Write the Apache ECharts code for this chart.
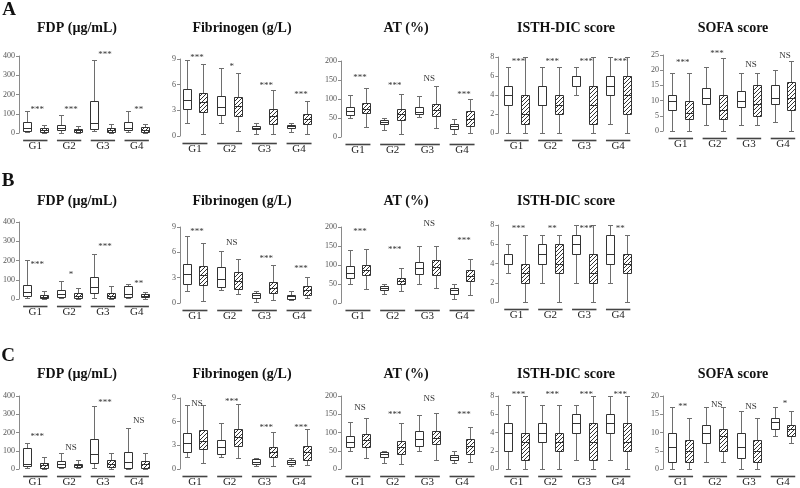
<!DOCTYPE html>
<html><head><meta charset="utf-8">
<script src="https://cdn.jsdelivr.net/npm/echarts@6/dist/echarts.min.js"></script>
<style>html,body{margin:0;padding:0;background:#fff}#c{width:800px;height:488px}</style>
</head><body><div id="c"></div>
<script>
// ---------- DATA ----------
const groups = ['G1', 'G2', 'G3', 'G4'];
// each box: [min, Q1, median, Q3, max]
// Row A
const fdpA_white = [[3,12,25,55,112],[2,14,24,43,96],[8,21,52,165,379],[3,14,26,57,113]];
const fdpA_hatch = [[2,6,14,25,40],[2,5,14,23,38],[2,5,15,26,45],[2,5,17,31,45]];
const fdpA_sig = ['***','***','***','**'];
const fdpA_sigY = [123,123,405,123];

const fibA_white = [[1.5,3.1,4.25,5.45,8.9],[1.5,2.45,3.35,4.65,8.0],[0.2,0.78,0.95,1.2,1.5],[0.47,0.95,1.13,1.25,1.5]];
const fibA_hatch = [[0.27,2.75,4.0,5.05,8.4],[0.55,2.35,3.5,4.6,7.4],[0.27,1.45,2.3,3.2,5.35],[0.27,1.37,2.0,2.55,4.05]];
const fibA_sig = ['***','*','***','***'];
const fibA_sigY = [9.2,8.1,5.9,4.85];

const atA_white = [[51,57,68,79,111],[18,33,39,45,50],[52,60,67,79,108],[8,22,28,33,48]];
const atA_hatch = [[27,62,75,90,128],[7,45,60,73,113],[25,55,70,88,135],[10,29,48,69,101]];
const atA_sig = ['***','***','NS','***'];
const atA_sigY = [157,134,153,111];

const isthA_white = [[0,3,4,5,7],[0,3,3,5,7],[4,5,6,6,7],[1,4,5,6,8]];
const isthA_hatch = [[0,1,2,4,8],[0,2,3,4,7],[0,1,3,5,8],[0,2,4,6,8]];
const isthA_sig = ['***','***','***','***'];
const isthA_sigY = [7.5,7.5,7.5,7.5];

const sofaA_white = [[0,7,10,12,19],[2,9,11,14,21],[2,8,10,13,19],[3,9,11,15,20]];
const sofaA_hatch = [[0,4,6,10,19],[0,4,7,12,24],[2,5,9,15,19],[0,7,11,16,23]];
const sofaA_sig = ['***','***','NS','NS'];
const sofaA_sigY = [22.6,25.5,21.7,24.8];

// Row B
const fdpB_white = [[5,15,35,75,205],[5,10,25,45,95],[5,30,60,112,232],[5,10,28,65,78]];
const fdpB_hatch = [[2,5,12,22,42],[2,5,15,30,58],[2,5,15,30,68],[2,8,15,25,35]];
const fdpB_sig = ['***','*','***','**'];
const fdpB_sigY = [177,128,273,82];

const fibB_white = [[1.4,2.2,3.4,4.6,7.9],[1.5,1.9,2.8,4.3,6.2],[0.12,0.63,0.9,1.2,1.4],[0.3,0.5,0.83,1.0,1.4]];
const fibB_hatch = [[0.24,2.1,3.3,4.4,7.1],[1.1,1.6,2.6,3.7,5.2],[0.3,1.2,1.8,2.5,4.45],[0.63,1.0,1.5,2.0,3.1]];
const fibB_sig = ['***','NS','***','***'];
const fibB_sigY = [8.4,7.1,5.2,4.1];

const atB_white = [[49,67,80,97,139],[23,35,39,45,49],[51,77,93,108,150],[11,25,33,40,49]];
const atB_hatch = [[38,75,88,101,141],[31,49,58,67,93],[39,75,95,112,150],[20,58,72,86,115]];
const atB_sig = ['***','***','NS','***'];
const atB_sigY = [189,140,210,165];

const isthB_white = [[3,4,4,5,6],[2,4,5,6,7],[2,5,6,7,8],[2,4,5,7,8]];
const isthB_hatch = [[0,2,3,4,7],[0,3,4,6,7],[0,2,3,5,8],[0,3,4,5,7]];
const isthB_sig = ['***','**','***','**'];
const isthB_sigY = [7.65,7.65,7.65,7.65];

// Row C
const fdpC_white = [[5,18,30,115,145],[5,12,25,45,88],[5,35,80,165,345],[2,8,40,95,222]];
const fdpC_hatch = [[2,8,20,32,65],[3,10,20,30,50],[2,10,30,50,88],[2,8,25,42,85]];
const fdpC_sig = ['***','NS','***','NS'];
const fdpC_sigY = [175,119,363,263];

const fibC_white = [[1.53,2.16,3.3,4.6,8.05],[1.53,1.85,2.83,3.7,5.78],[0.4,0.67,0.94,1.25,1.45],[0.35,0.59,0.94,1.14,1.45]];
const fibC_hatch = [[0.8,2.5,3.6,4.9,8.1],[1.4,2.9,4.0,5.1,8.25],[0.4,1.53,2.1,2.83,4.7],[0.55,1.14,2.1,2.95,5.1]];
const fibC_sig = ['NS','***','***','***'];
const fibC_sigY = [8.3,8.5,5.3,5.3];

const atC_white = [[50,61,75,90,130],[16,32,41,46,50],[50,63,82,104,149],[16,25,32,39,50]];
const atC_hatch = [[29,61,80,96,140],[13,42,60,77,125],[26,68,85,103,153],[18,41,62,82,116]];
const atC_sig = ['NS','***','NS','***'];
const atC_sigY = [168,149,193,149];

const isthC_white = [[0,2,4,5,7],[0,3,4,5,7],[1,4,5,6,7],[1,4,5,6,8]];
const isthC_hatch = [[0,1,3,4,8],[0,2,3,4,7],[0,1,3,5,8],[0,2,3,5,8]];
const isthC_sig = ['***','***','***','***'];
const isthC_sigY = [8.2,8.2,8.2,8.2];

const sofaC_white = [[0,2,6,10,17],[2,7,10,12,17],[0,3,6,10,16],[9,11,13,14,17]];
const sofaC_hatch = [[0,2,5,8,14],[2,5,9,11,17],[0,2,5,8,14],[7,9,11,12,16]];
const sofaC_sig = ['**','NS','NS','*'];
const sofaC_sigY = [17,17.5,17,18];

// ---------- LAYOUT ----------
const colLeft = [18.4, 177.6, 340.6, 499.5, 663.8];
const colWidth = [135.2, 138.8, 138.8, 135.6, 137.6];
const axisX = [19, 180, 341, 498.3, 663];
const titleX = [77, 242, 406, 566, 733];
const rowTitleY = [28, 201, 374];
const rowLetters = [['A', 9, 10], ['B', 8, 181], ['C', 8, 356]];
const SERIF = '"Liberation Serif", "Times New Roman", serif';

const panels = [
  {r:0,c:0,title:'FDP (µg/mL)',max:400,iv:100,top:56,bot:133,w:fdpA_white,h:fdpA_hatch,s:fdpA_sig,sy:fdpA_sigY},
  {r:0,c:1,title:'Fibrinogen (g/L)',max:9,iv:3,top:59,bot:136,w:fibA_white,h:fibA_hatch,s:fibA_sig,sy:fibA_sigY},
  {r:0,c:2,title:'AT (%)',max:200,iv:50,top:61,bot:137,w:atA_white,h:atA_hatch,s:atA_sig,sy:atA_sigY},
  {r:0,c:3,title:'ISTH-DIC score',max:8,iv:2,top:57,bot:133,w:isthA_white,h:isthA_hatch,s:isthA_sig,sy:isthA_sigY},
  {r:0,c:4,title:'SOFA score',max:25,iv:5,top:55,bot:131,w:sofaA_white,h:sofaA_hatch,s:sofaA_sig,sy:sofaA_sigY},
  {r:1,c:0,title:'FDP (µg/mL)',max:400,iv:100,top:222,bot:299,w:fdpB_white,h:fdpB_hatch,s:fdpB_sig,sy:fdpB_sigY},
  {r:1,c:1,title:'Fibrinogen (g/L)',max:9,iv:3,top:227,bot:303,w:fibB_white,h:fibB_hatch,s:fibB_sig,sy:fibB_sigY},
  {r:1,c:2,title:'AT (%)',max:200,iv:50,top:227,bot:303,w:atB_white,h:atB_hatch,s:atB_sig,sy:atB_sigY},
  {r:1,c:3,title:'ISTH-DIC score',max:8,iv:2,top:225,bot:302,w:isthB_white,h:isthB_hatch,s:isthB_sig,sy:isthB_sigY},
  {r:2,c:0,title:'FDP (µg/mL)',max:400,iv:100,top:396,bot:472,w:fdpC_white,h:fdpC_hatch,s:fdpC_sig,sy:fdpC_sigY},
  {r:2,c:1,title:'Fibrinogen (g/L)',max:9,iv:3,top:398,bot:474,w:fibC_white,h:fibC_hatch,s:fibC_sig,sy:fibC_sigY},
  {r:2,c:2,title:'AT (%)',max:200,iv:50,top:396,bot:472,w:atC_white,h:atC_hatch,s:atC_sig,sy:atC_sigY},
  {r:2,c:3,title:'ISTH-DIC score',max:8,iv:2,top:396,bot:472,w:isthC_white,h:isthC_hatch,s:isthC_sig,sy:isthC_sigY},
  {r:2,c:4,title:'SOFA score',max:20,iv:5,top:396,bot:472,w:sofaC_white,h:sofaC_hatch,s:sofaC_sig,sy:sofaC_sigY}
];

// ---------- STYLE ----------
const BOX_OFF = 8.4, BOX_W = 8, CAP_W = 5, SIG_DX = 2;
const BOX_STROKE = '#333', WHISK = '#6e6e6e';

const hatch = document.createElement('canvas');
hatch.width = 4; hatch.height = 4;
const hc = hatch.getContext('2d');
hc.strokeStyle = '#333'; hc.lineWidth = 1;
hc.beginPath();
hc.moveTo(0, 4); hc.lineTo(4, 0);
hc.moveTo(-1, 1); hc.lineTo(1, -1);
hc.moveTo(3, 5); hc.lineTo(5, 3);
hc.stroke();

function px(v) { return Math.round(v) + 0.5; }

function makeBox(side, hatched) {
  return function (params, api) {
    const c = api.value(0);
    const p = [1, 2, 3, 4, 5].map(k => api.coord([c, api.value(k)]));
    const x = px(p[0][0] + side * BOX_OFF);
    const hw = BOX_W / 2, cw = CAP_W / 2;
    const yMin = px(p[0][1]), yQ1 = px(p[1][1]), yMed = px(p[2][1]), yQ3 = px(p[3][1]), yMax = px(p[4][1]);
    const ls = {stroke: WHISK, lineWidth: 1};
    return {type: 'group', children: [
      {type: 'line', shape: {x1: x, y1: yMax, x2: x, y2: yQ3}, style: ls},
      {type: 'line', shape: {x1: x, y1: yQ1, x2: x, y2: yMin}, style: ls},
      {type: 'line', shape: {x1: x - cw, y1: yMax, x2: x + cw, y2: yMax}, style: ls},
      {type: 'line', shape: {x1: x - cw, y1: yMin, x2: x + cw, y2: yMin}, style: ls},
      {type: 'rect', shape: {x: x - hw, y: yQ3, width: 2 * hw, height: Math.max(yQ1 - yQ3, 1)},
        style: {fill: hatched ? {image: hatch, repeat: 'repeat'} : '#fff', stroke: BOX_STROKE, lineWidth: 1}},
      {type: 'line', shape: {x1: x - hw, y1: yMed, x2: x + hw, y2: yMed}, style: {stroke: BOX_STROKE, lineWidth: 1}}
    ]};
  };
}

const grid = [], xAxis = [], yAxis = [], series = [], graphic = [];
panels.forEach((P, i) => {
  grid.push({left: colLeft[P.c], top: P.top, width: colWidth[P.c], height: P.bot - P.top});
  xAxis.push({type: 'category', gridIndex: i, data: groups,
    axisLine: {show: false}, axisTick: {show: false}, splitLine: {show: false},
    axisLabel: {show: true, margin: 8, color: '#222', fontFamily: SERIF, fontSize: 11}});
  yAxis.push({type: 'value', gridIndex: i, min: 0, max: P.max, interval: P.iv,
    offset: colLeft[P.c] - axisX[P.c],
    axisLine: {show: true, lineStyle: {color: '#8a8a8a', width: 1}},
    axisTick: {show: true, length: 3, lineStyle: {color: '#8a8a8a'}},
    splitLine: {show: false},
    axisLabel: {color: '#555', fontFamily: SERIF, fontSize: 8, margin: 4}});
  series.push({type: 'custom', xAxisIndex: i, yAxisIndex: i, renderItem: makeBox(-1, false),
    encode: {x: 0, y: [1, 2, 3, 4, 5]}, data: P.w.map((b, k) => [k].concat(b)), silent: true});
  series.push({type: 'custom', xAxisIndex: i, yAxisIndex: i, renderItem: makeBox(1, true),
    encode: {x: 0, y: [1, 2, 3, 4, 5]}, data: P.h.map((b, k) => [k].concat(b)), silent: true});
  // group underline
  series.push({type: 'custom', xAxisIndex: i, yAxisIndex: i, silent: true,
    encode: {x: 0, y: 1}, data: groups.map((g, k) => [k, 0]),
    renderItem: function (params, api) {
      const pt = api.coord([api.value(0), 0]);
      const bw = api.size([1, 0])[0];
      const y = Math.round(pt[1]) + 7.5;
      return {type: 'line', shape: {x1: pt[0] - bw * 0.36, y1: y, x2: pt[0] + bw * 0.36, y2: y},
        style: {stroke: '#444', lineWidth: 1.6}};
    }});
  // significance labels
  const sigs = P.s;
  series.push({type: 'custom', xAxisIndex: i, yAxisIndex: i, silent: true,
    encode: {x: 0, y: 1}, data: P.sy.map((v, k) => [k, v]),
    renderItem: function (params, api) {
      const pt = api.coord([api.value(0), api.value(1)]);
      return {type: 'text', x: pt[0] + SIG_DX, y: pt[1],
        style: {text: sigs[params.dataIndex], align: 'center', verticalAlign: 'middle',
          fill: '#333', font: '9px ' + SERIF}};
    }});
  graphic.push({type: 'text', x: titleX[P.c], y: rowTitleY[P.r],
    style: {text: P.title, align: 'center', verticalAlign: 'middle', fill: '#111',
      font: 'bold 14px ' + SERIF}});
});
rowLetters.forEach(L => {
  graphic.push({type: 'text', x: L[1], y: L[2],
    style: {text: L[0], align: 'center', verticalAlign: 'middle', fill: '#111', font: 'bold 19px ' + SERIF}});
});

const chart = echarts.init(document.getElementById('c'), null, {renderer: 'canvas'});
chart.setOption({animation: false, backgroundColor: '#fff', grid, xAxis, yAxis, series, graphic});
</script></body></html>
